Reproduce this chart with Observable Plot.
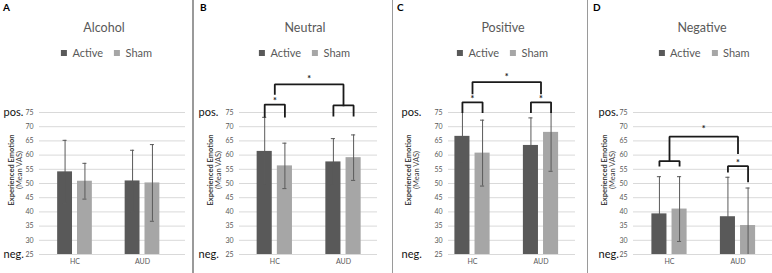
<!DOCTYPE html>
<html>
<head>
<meta charset="utf-8">
<script src="https://cdn.jsdelivr.net/npm/d3@7"></script>
<script src="https://cdn.jsdelivr.net/npm/@observablehq/plot@0.6"></script>
<style>
  html, body { margin: 0; padding: 0; background: #fff; }
  #root { position: relative; width: 772px; height: 273px; overflow: hidden; background: #fff; font-family: Lato, "Open Sans", sans-serif; }
  .abs { position: absolute; }
  .letter { font-weight: bold; font-size: 10px; color: #000; }
  .title { font-size: 12.5px; font-weight: 400; color: #595959; white-space: nowrap; transform: translateX(-50%); }
  .legend { white-space: nowrap; width: max-content; transform: translateX(-50%); }
  .axtitle { white-space: nowrap; font-size: 7.5px; line-height: 7.5px; color: #404040; transform: translate(-50%, -50%) rotate(-90deg); }
  .sep { position: absolute; top: 0; width: 1.5px; height: 273px; background: #9a9a9a; }
</style>
</head>
<body>
<div id="root"></div>
<script>
// ---------- data ----------
const groups = ["HC", "AUD"];
const series = ["Active", "Sham"];
const seriesColors = ["#595959", "#a6a6a6"];
const panelLetters = ["A", "B", "C", "D"];
const panelTitles = ["Alcohol", "Neutral", "Positive", "Negative"];
const yTicks = [25, 30, 35, 40, 45, 50, 55, 60, 65, 70, 75];
const extremeLabels = [{v: 75, label: "pos."}, {v: 25, label: "neg."}];
const axisTitle = ["Experienced Emotion", "(Mean VAS)"];

// means and SDs, [HC, AUD]
const alcoholActive = [54.1, 50.9], alcoholActiveSD = [11.1, 10.8];
const alcoholSham = [50.8, 50.2], alcoholShamSD = [6.3, 13.5];
const neutralActive = [61.3, 57.6], neutralActiveSD = [12.0, 8.2];
const neutralSham = [56.2, 59.1], neutralShamSD = [8.0, 8.0];
const positiveActive = [66.6, 63.4], positiveActiveSD = [9.0, 9.7];
const positiveSham = [60.7, 68.0], positiveShamSD = [11.6, 13.7];
const negativeActive = [39.3, 38.3], negativeActiveSD = [13.1, 13.9];
const negativeSham = [41.0, 35.2], negativeShamSD = [11.4, 13.2];

// significance brackets: points as [group index, bar side (-1 Active, 0 centre, 1 Sham), value]
const neutralBrackets = [
  [[0, -1, 73.6], [0, -1, 77.8], [0, 1, 77.8], [0, 1, 73.6]],
  [[1, -1, 73.9], [1, -1, 77.5], [1, 1, 77.5], [1, 1, 73.9]],
  [[0, 0, 81.6], [0, 0, 84.9], [1, 0, 84.9], [1, 0, 77.5]]
];
const neutralStars = [[0, 0, 79.6], [0.5, 0, 87.4]];
const positiveBrackets = [
  [[0, -1, 75.1], [0, -1, 78.6], [0, 1, 78.6], [0, 1, 75.1]],
  [[1, -1, 75.1], [1, -1, 78.6], [1, 1, 78.6], [1, 1, 75.1]],
  [[0, 0, 81.7], [0, 0, 85.7], [1, 0, 85.7], [1, 0, 81.7]]
];
const positiveStars = [[0, 0, 80.5], [1, 0, 80.5], [0.5, 0, 88.0]];
const negativeBrackets = [
  [[0, -1, 56.3], [0, -1, 57.9], [0, 1, 57.9], [0, 1, 56.3]],
  [[1, -1, 54.2], [1, -1, 56.1], [1, 1, 56.1], [1, 1, 50.8]],
  [[0, 0, 57.9], [0, 0, 66.5], [1, 0, 66.5], [1, 0, 60.7]]
];
const negativeStars = [[1, 0, 58.0], [0.5, 0, 69.8]];

const panelData = [
  {active: alcoholActive, activeSD: alcoholActiveSD, sham: alcoholSham, shamSD: alcoholShamSD, brackets: [], stars: []},
  {active: neutralActive, activeSD: neutralActiveSD, sham: neutralSham, shamSD: neutralShamSD, brackets: neutralBrackets, stars: neutralStars},
  {active: positiveActive, activeSD: positiveActiveSD, sham: positiveSham, shamSD: positiveShamSD, brackets: positiveBrackets, stars: positiveStars},
  {active: negativeActive, activeSD: negativeActiveSD, sham: negativeSham, shamSD: negativeShamSD, brackets: negativeBrackets, stars: negativeStars}
];

// ---------- layout (page pixels) ----------
const layout = [
  {origin: 0,   width: 192, gridStart: 39,  gridEnd: 185, hc: 74.5,  aud: 142,   letterX: 3,   titleX: 104, legendX: 112,   posX: 3,   axTitleX: 11.5},
  {origin: 193, width: 199, gridStart: 239, gridEnd: 377, hc: 274.3, aud: 343,   letterX: 200, titleX: 305, legendX: 310,   posX: 198, axTitleX: 210.5},
  {origin: 393, width: 194, gridStart: 448, gridEnd: 575, hc: 472,   aud: 540.5, letterX: 397, titleX: 503, legendX: 508,   posX: 401, axTitleX: 408.5},
  {origin: 588, width: 184, gridStart: 633, gridEnd: 772, hc: 669,   aud: 737.5, letterX: 593, titleX: 702, legendX: 709.5, posX: 598, axTitleX: 604.5}
];
const separators = [192, 391.5, 586.5];
const svgTop = 60, svgHeight = 213, frameTop = 52, frameBottom = 194;
const axTitleY = 170;
const barOffset = 0.147, barHalf = 0.11, capHalf = 0.03;
const fontFamily = 'Lato, "Open Sans", sans-serif';

const root = document.getElementById("root");

panelData.forEach((pd, i) => {
  const L = layout[i];
  const d = L.aud - L.hc;
  const rows = [];
  groups.forEach((g, gi) => {
    rows.push({g: gi, side: -1, series: "Active", mean: pd.active[gi], sd: pd.activeSD[gi]});
    rows.push({g: gi, side: 1, series: "Sham", mean: pd.sham[gi], sd: pd.shamSD[gi]});
  });
  const xc = r => r.g + r.side * barOffset;
  const top = r => Math.min(75, r.mean + r.sd);
  const bot = r => Math.max(25, r.mean - r.sd);
  const bracketLines = pd.brackets.flatMap((b, bi) => b.map(([g, s, v]) => ({b: bi, x: g + s * barOffset, y: v})));
  const stars = pd.stars.map(([g, s, v]) => ({x: g + s * barOffset, y: v}));

  const panel = document.createElement("div");
  panel.className = "abs";
  panel.style.cssText = `left:${L.origin}px;top:0;width:${L.width}px;height:273px;`;

  const letter = document.createElement("div");
  letter.className = "abs letter";
  letter.style.cssText = `left:${L.letterX - L.origin}px;top:1px;`;
  letter.textContent = panelLetters[i];
  panel.appendChild(letter);

  const title = document.createElement("div");
  title.className = "abs title";
  title.style.cssText = `left:${L.titleX - L.origin}px;top:20px;`;
  title.textContent = panelTitles[i];
  panel.appendChild(title);

  const legend = Plot.legend({
    color: {type: "ordinal", domain: series, range: seriesColors},
    swatchSize: 6,
    style: {fontSize: "11px", color: "#595959", fontFamily, flexWrap: "nowrap", whiteSpace: "nowrap"}
  });
  const legWrap = document.createElement("div");
  legWrap.className = "abs legend";
  legWrap.style.cssText = `left:${L.legendX - L.origin}px;top:${52 - 16}px;`;
  legWrap.appendChild(legend);
  panel.appendChild(legWrap);

  const axt = document.createElement("div");
  axt.className = "abs axtitle";
  axt.style.cssText = `left:${L.axTitleX + 3 - L.origin}px;top:${axTitleY}px;text-align:center;`;
  axt.innerHTML = `<b>${axisTitle[0]}</b><br>${axisTitle[1]}`;
  panel.appendChild(axt);

  const marginLeft = L.gridStart - L.origin;
  const marginRight = L.origin + L.width - L.gridEnd;
  const chart = Plot.plot({
    width: L.width,
    height: svgHeight,
    marginTop: frameTop,
    marginBottom: svgHeight - frameBottom,
    marginLeft,
    marginRight,
    style: {fontSize: "7px", color: "#595959", fontFamily, background: "transparent", overflow: "visible"},
    x: {domain: [-(L.hc - L.gridStart) / d, 1 + (L.gridEnd - L.aud) / d], ticks: [0, 1], tickFormat: t => groups[t], tickSize: 0, tickPadding: 5, label: null},
    y: {domain: [25, 75], ticks: yTicks, tickSize: 0, tickPadding: 6, label: null},
    color: {domain: series, range: seriesColors},
    marks: [
      Plot.ruleY(yTicks, {stroke: "#d9d9d9", strokeWidth: 1}),
      Plot.rectY(rows, {x1: r => xc(r) - barHalf, x2: r => xc(r) + barHalf, y1: 25, y2: "mean", fill: "series"}),
      Plot.ruleX(rows, {x: xc, y1: bot, y2: top, stroke: "#5a5a5a", strokeWidth: 1}),
      Plot.ruleY(rows.filter(r => r.mean + r.sd <= 75), {y: r => r.mean + r.sd, x1: r => xc(r) - capHalf, x2: r => xc(r) + capHalf, stroke: "#5a5a5a"}),
      Plot.ruleY(rows.filter(r => r.mean - r.sd >= 25), {y: r => r.mean - r.sd, x1: r => xc(r) - capHalf, x2: r => xc(r) + capHalf, stroke: "#5a5a5a"}),
      Plot.line(bracketLines, {x: "x", y: "y", z: "b", stroke: "#1a1a1a", strokeWidth: 1.8, strokeLinejoin: "miter", strokeLinecap: "square"}),
      Plot.text(stars, {x: "x", y: "y", text: () => "*", fontSize: 9, fontWeight: "bold", fill: "#1a1a1a", dy: 2}),
      Plot.text(extremeLabels, {y: "v", text: "label", frameAnchor: "left", dx: L.posX - L.gridStart, textAnchor: "start", fontSize: 11, fill: "#111"})
    ]
  });
  chart.style.position = "absolute";
  chart.style.left = "0px";
  chart.style.top = svgTop + "px";
  panel.appendChild(chart);
  root.appendChild(panel);
});

separators.forEach(x => {
  const s = document.createElement("div");
  s.className = "sep";
  s.style.left = x + "px";
  root.appendChild(s);
});
</script>
</body>
</html>
